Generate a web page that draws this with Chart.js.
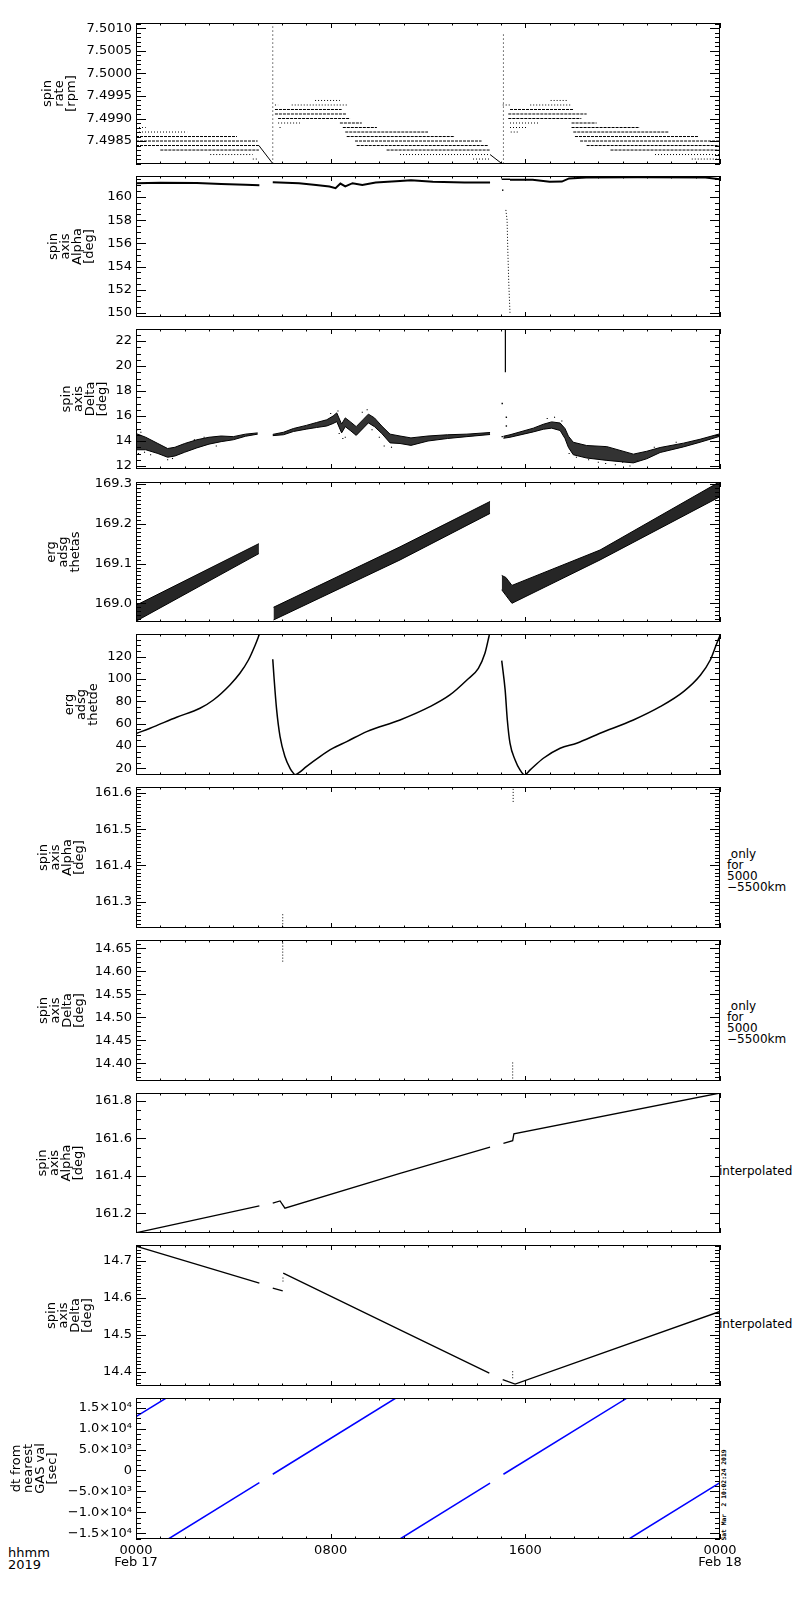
<!DOCTYPE html>
<html>
<head>
<meta charset="utf-8">
<script src="https://cdn.jsdelivr.net/npm/chart.js@4.4.1/dist/chart.umd.min.js"></script>
<style>
  html, body { margin: 0; padding: 0; background: #fff; }
  body { width: 800px; height: 1600px; position: relative; overflow: hidden;
         font-family: 'DejaVu Sans', sans-serif; color: #000; }
  canvas { position: absolute; left: 0; }
  .note { position: absolute; font-size: 12px; line-height: 11px; white-space: pre; }
  .foot { position: absolute; font-size: 13px; line-height: 12px; white-space: pre; }
  #stamp { position: absolute; left: 674px; top: 1491px; width: 100px; height: 8px; line-height: 8px;
           font: bold 6.3px 'DejaVu Sans Mono', monospace; text-align: center; white-space: pre;
           transform: rotate(-90deg); }
</style>
</head>
<body>
<div class="note" style="left:727px;top:849px"> only
for
5000
−5500km</div>
<div class="note" style="left:727px;top:1001px"> only
for
5000
−5500km</div>
<div class="note" style="left:719px;top:1166px">interpolated</div>
<div class="note" style="left:719px;top:1319px">interpolated</div>
<div class="foot" style="left:8px;top:1547px">hhmm
2019</div>
<div id="stamp">Sat Mar  2 10:02:24 2019</div>
<script>
// time axis: hours after 0000 UT Feb 17 2019
const hourTicks = [0, 8, 16, 24];
const hourLabels = [['0000', 'Feb 17'], '0800', '1600', ['0000', 'Feb 18']];

// panel 1 - spin rate [rpm], quantised levels (level, from h, to h, dense?)
const rateLevel = [7.4988, 7.4987, 7.4986, 7.4985, 7.4984, 7.4983, 7.4982, 7.4981,
  7.4994, 7.4993, 7.4993, 7.4992, 7.4991, 7.4990, 7.4989, 7.4989, 7.4988, 7.4988, 7.4987, 7.4986, 7.4985, 7.4984, 7.4983, 7.4982, 7.4981,
  7.4994, 7.4993, 7.4993, 7.4992, 7.4991, 7.4990, 7.4989, 7.4989, 7.4988, 7.4988, 7.4987, 7.4987, 7.4986, 7.4985, 7.4984, 7.4983, 7.4982, 7.4981];
const rateFrom = [0, 0, 0, 0, 0, 1.0, 3.05, 4.8,
  7.36, 5.71, 6.4, 5.71, 5.71, 5.84, 5.84, 8.38, 5.9, 8.5, 8.6, 8.66, 9.0, 9.07, 10.3, 10.85, 13.85,
  17.04, 15.07, 16.2, 15.37, 15.3, 15.3, 15.37, 17.9, 15.37, 17.9, 15.4, 17.97, 18.04, 18.25, 18.52, 19.5, 21.33, 22.84];
const rateTo = [0.4, 2.1, 4.15, 5.0, 5.05, 5.05, 4.8, 5.0,
  8.38, 5.84, 8.66, 8.45, 8.66, 8.8, 6.74, 9.28, 6.0, 9.9, 12.0, 13.1, 14.2, 14.47, 14.55, 14.55, 14.55,
  17.77, 15.37, 17.9, 17.97, 18.52, 18.3, 16.6, 18.93, 16.06, 20.7, 15.7, 21.88, 23.1, 24, 24, 24, 24, 24];
const rateDense = [0, 0, 1, 1, 1, 1, 0, 0,
  0, 0, 0, 1, 1, 1, 0, 1, 0, 1, 1, 1, 1, 1, 1, 0, 0,
  0, 0, 0, 1, 1, 1, 0, 1, 0, 1, 0, 1, 1, 1, 1, 1, 0, 0];
const rateRampH = [[5.05, 5.62], [14.55, 15.03]];
const rateRampV = [[7.4984, 7.4980], [7.4982, 7.4980]];
const rateSpikeH = [5.62, 15.1];
const rateSpikeTop = [7.5011, 7.5009];
const rateTicks = [7.4985, 7.4990, 7.4995, 7.5000, 7.5005, 7.5010];

// panel 2 - spin axis alpha [deg]
const alphaH = [[0, 1.0, 2.5, 3.5, 4.5, 5.07],
  [5.62, 6.7, 7.4, 7.95, 8.2, 8.4, 8.6, 8.9, 9.3, 9.85, 10.85, 11.3, 12.2, 13.5, 14.55],
  [15.37, 16.3, 17.0, 17.5, 17.8, 18.5, 20.6, 23.4, 24]];
const alphaV = [[161.18, 161.22, 161.2, 161.12, 161.05, 161.0],
  [161.27, 161.18, 161.03, 160.9, 160.75, 161.15, 160.9, 161.18, 161.03, 161.24, 161.38, 161.44, 161.3, 161.24, 161.24],
  [161.47, 161.47, 161.3, 161.32, 161.59, 161.67, 161.7, 161.67, 161.52]];
const alphaDropH = [15.2, 15.25, 15.28, 15.32, 15.37];
const alphaDropV = [158.88, 157.99, 155.4, 152.56, 149.97];
const alphaDashH = [15.03, 15.37];
const alphaDashV = [161.52, 161.52];
const alphaTicks = [150, 152, 154, 156, 158, 160];

// panel 3 - spin axis delta [deg], noisy band (low / high edge) plus stray points
const deltaH = [[0, 0.4, 0.9, 1.3, 1.6, 2.0, 2.5, 3.0, 3.5, 4.0, 4.5, 5.0],
  [5.62, 6.06, 6.47, 7.0, 7.42, 7.84, 8.1, 8.25, 8.45, 8.6, 8.8, 9.05, 9.35, 9.55, 9.8, 10.1, 10.44, 10.85, 11.3, 12.0, 12.8, 13.6, 14.55],
  [15.1, 15.37, 16.33, 16.74, 17.08, 17.43, 17.63, 17.77, 17.97, 18.52, 19.35, 20.44, 20.99, 21.54, 22.5, 23.18, 24]];
const deltaLo = [[13.3, 13.3, 13.0, 12.7, 12.8, 13.1, 13.45, 13.75, 13.95, 14.1, 14.38, 14.55],
  [14.43, 14.5, 14.76, 14.95, 15.08, 15.2, 15.4, 15.55, 14.65, 15.15, 14.85, 14.45, 15.05, 15.45, 15.15, 14.6, 13.85, 13.8, 13.65, 14.0, 14.2, 14.35, 14.52],
  [14.22, 14.3, 14.73, 14.94, 15.03, 14.84, 14.2, 13.49, 12.9, 12.64, 12.45, 12.25, 12.58, 13.08, 13.53, 13.9, 14.38]];
const deltaHi = [[14.6, 14.3, 13.8, 13.4, 13.5, 13.8, 14.1, 14.3, 14.4, 14.35, 14.55, 14.65],
  [14.53, 14.7, 15.0, 15.25, 15.48, 15.7, 16.0, 16.25, 15.35, 15.85, 15.55, 15.15, 15.75, 16.15, 15.85, 15.2, 14.55, 14.4, 14.25, 14.4, 14.5, 14.55, 14.68],
  [14.38, 14.5, 15.03, 15.34, 15.53, 15.44, 15.0, 14.39, 13.9, 13.64, 13.55, 12.95, 13.18, 13.48, 13.83, 14.14, 14.58]];
const deltaNoiseH = [0.05, 0.1, 0.2, 0.35, 0.6, 1.3, 1.5, 2.4, 2.8, 3.3,
  8.0, 8.3, 8.35, 8.5, 8.6, 9.3, 9.5, 9.7, 10.0, 10.2, 10.5,
  16.9, 17.2, 17.5, 17.8, 18.1, 18.6, 19.0, 19.3, 19.7, 20.0, 20.3, 20.6, 21.3, 22.2];
const deltaNoiseV = [14.9, 13.0, 14.7, 13.1, 12.9, 12.5, 12.6, 14.1, 14.3, 13.6,
  16.2, 16.4, 14.6, 14.2, 14.3, 16.3, 16.5, 14.9, 14.3, 13.6, 13.5,
  15.8, 15.9, 15.6, 13.0, 12.7, 12.5, 12.3, 12.2, 12.1, 12.3, 12.0, 12.4, 13.5, 13.9];
const deltaSpikeH = [15.18, 15.18];
const deltaSpikeV = [19.5, 23.0];
const deltaMarkH = [15.05, 15.05, 15.22, 15.22];
const deltaMarkV = [17.0, 14.35, 15.9, 15.2];
const deltaTicks = [12, 14, 16, 18, 20, 22];

// panel 4 - erg adsg thetas, band
const thetasH = [[0, 5.05], [5.65, 10.85, 14.55], [15.03, 15.2, 15.45, 19.07, 24]];
const thetasLo = [[168.955, 169.125], [168.958, 169.109, 169.226], [169.034, 169.02, 169.0, 169.109, 169.268]];
const thetasHi = [[168.995, 169.15], [168.99, 169.142, 169.256], [169.07, 169.065, 169.045, 169.134, 169.306]];
const thetasTicks = [169.0, 169.1, 169.2, 169.3];

// panel 5 - erg adsg thetde
const thetdeH = [[0.03, 0.58, 1.67, 2.63, 3.18, 3.86, 4.27, 4.62, 4.9, 5.07],
  [5.62, 5.67, 5.78, 5.92, 6.12, 6.33, 6.47, 6.53, 6.67, 7.0, 7.56, 8.1, 8.66, 9.48, 10.85, 12.08, 12.9, 13.6, 14.07, 14.34, 14.52],
  [15.03, 15.17, 15.26, 15.37, 15.58, 15.78, 15.96, 16.2, 16.74, 17.43, 18.11, 19.07, 20.44, 21.54, 22.5, 23.2, 23.6, 23.87, 24]];
const thetdeV = [[51.4, 55.9, 65.7, 73.8, 81.2, 94.7, 105.1, 117, 130.5, 140],
  [117.7, 102, 72.3, 48.4, 30.5, 20, 15.6, 14.2, 15.6, 21.5, 30.5, 38, 43.9, 52.9, 63.3, 75.2, 85.7, 99.1, 109.6, 123, 139.4],
  [116.4, 90.2, 63.3, 42.5, 27.5, 18.6, 14.1, 18.6, 29, 38, 42.5, 51.4, 63.3, 75.2, 88.7, 103.6, 117, 132, 139]];
const thetdeTicks = [20, 40, 60, 80, 100, 120];

// panels 6, 7 - only for 5000-5500 km (short runs of points)
const altAlphaH = [6.03, 15.5];
const altAlphaLo = [161.23, 161.575];
const altAlphaHi = [161.268, 161.612];
const altAlphaTicks = [161.3, 161.4, 161.5, 161.6];
const altDeltaH = [6.03, 15.48];
const altDeltaLo = [14.621, 14.367];
const altDeltaHi = [14.664, 14.406];
const altDeltaTicks = [14.40, 14.45, 14.50, 14.55, 14.60, 14.65];

// panels 8, 9 - interpolated
const intAlphaH = [[0.03, 5.07], [5.62, 5.92, 6.12, 10.85, 14.55], [15.1, 15.48, 15.53, 24]];
const intAlphaV = [[161.097, 161.239], [161.254, 161.266, 161.227, 161.413, 161.552], [161.573, 161.587, 161.623, 161.841]];
const intAlphaTicks = [161.2, 161.4, 161.6, 161.8];
const intDeltaH = [[0.03, 5.07], [5.62, 6.03], [6.05, 10.85, 14.52], [15.07, 15.58, 24]];
const intDeltaV = [[14.739, 14.64], [14.626, 14.619], [14.667, 14.513, 14.396], [14.378, 14.366, 14.563]];
const intDeltaDotH = [6.04, 15.48];
const intDeltaDotLo = [14.644, 14.382];
const intDeltaDotHi = [14.657, 14.405];
const intDeltaTicks = [14.4, 14.5, 14.6, 14.7];

// panel 10 - dt from nearest GAS value [sec]
const dtH = [[0, 1.24], [1.33, 5.07], [5.62, 10.68], [10.85, 14.55], [15.1, 20.17], [20.26, 24]];
const dtV = [[12850, 17300], [-16360, -2908], [-895, 17315], [-16360, -3040], [-895, 17260], [-16360, -2900]];
const dtTicks = [15000, 10000, 5000, 0, -5000, -10000, -15000];
const dtLabels = ['1.5×10⁴', '1.0×10⁴', '5.0×10³', '0', '−5.0×10³', '−1.0×10⁴', '−1.5×10⁴'];

// page layout of the ten plot boxes
const panelTop = [23, 176, 329, 482, 634, 787, 940, 1093, 1245, 1398];
const panelBottom = [164, 317, 469, 622, 775, 928, 1081, 1233, 1386, 1539];
const PAD = 14, LEFT = 136, RIGHT = 720;

Chart.defaults.color = '#000';
Chart.defaults.font.family = "'DejaVu Sans', sans-serif";
Chart.defaults.font.size = 13;

// IDL style frame with inward ticks on all four sides
const idlAxes = {
  id: 'idlAxes',
  afterDraw(chart, args, o) {
    const { ctx, chartArea: a } = chart;
    const x = chart.scales.x, y = chart.scales.y;
    ctx.save();
    ctx.strokeStyle = '#000';
    ctx.lineWidth = 1;
    ctx.beginPath();
    const k0 = Math.ceil(y.min / o.minor - 1e-6), k1 = Math.floor(y.max / o.minor + 1e-6);
    for (let k = k0; k <= k1; k++) {
      const v = k * o.minor;
      const py = Math.round(y.getPixelForValue(v)) + 0.5;
      const big = o.major.some(m => Math.abs(m - v) < o.minor / 4);
      const len = big ? 10 : 5;
      ctx.moveTo(a.left, py); ctx.lineTo(a.left + len, py);
      ctx.moveTo(a.right, py); ctx.lineTo(a.right - len, py);
    }
    for (let hr = 0; hr <= 24; hr++) {
      const px = Math.round(x.getPixelForValue(hr)) + 0.5;
      const len = hr % 8 === 0 ? 5 : 2.5;
      ctx.moveTo(px, a.top); ctx.lineTo(px, a.top + len);
      ctx.moveTo(px, a.bottom); ctx.lineTo(px, a.bottom - len);
    }
    ctx.stroke();
    ctx.strokeRect(a.left + 0.5, a.top + 0.5, a.right - a.left - 1, a.bottom - a.top - 1);
    ctx.restore();
  }
};

function seg(hs, vs, extra) {
  return Object.assign({
    data: hs.map((h, k) => ({ x: h, y: vs[k] })),
    showLine: true, pointRadius: 0, borderColor: '#000', backgroundColor: '#000',
    borderWidth: 1, fill: false
  }, extra);
}
function band(hs, lo, hi, color) {
  return [seg(hs, lo, { borderWidth: 1 }),
          seg(hs, hi, { borderWidth: 1, fill: '-1', backgroundColor: color })];
}
function dots(hs, vs, r) {
  return { data: hs.map((h, k) => ({ x: h, y: vs[k] })), pointRadius: r || 1, pointStyle: 'rect',
           borderWidth: 0, backgroundColor: '#000' };
}

function panel(i, p) {
  const last = i === panelTop.length - 1;
  const cv = document.createElement('canvas');
  cv.width = 800;
  cv.height = panelBottom[i] - panelTop[i] + PAD + (last ? 44 : PAD);
  cv.style.top = (panelTop[i] - PAD) + 'px';
  document.body.appendChild(cv);
  new Chart(cv, {
    type: 'scatter',
    data: { datasets: p.datasets },
    options: {
      responsive: false,
      animation: false,
      events: [],
      layout: { padding: { top: PAD, bottom: last ? 0 : PAD, left: 0, right: 800 - RIGHT } },
      plugins: {
        legend: { display: false },
        tooltip: { enabled: false },
        idlAxes: { major: p.ticks, minor: p.minor }
      },
      scales: {
        x: {
          type: 'linear', min: 0, max: 24, display: last,
          grid: { display: false, drawTicks: false }, border: { display: false },
          ticks: { autoSkip: false, maxRotation: 0, padding: 5, display: last,
                   font: { size: 13, lineHeight: 0.95 },
                   callback: (v, k) => hourLabels[k] },
          afterBuildTicks: s => { s.ticks = hourTicks.map(v => ({ value: v })); },
          afterFit: s => { s.height = last ? 44 : 0; }
        },
        y: {
          min: p.min, max: p.max,
          grid: { display: false, drawTicks: false }, border: { display: false },
          ticks: { autoSkip: false, padding: 4,
                   callback: (v, k) => p.labels ? p.labels[k] : p.ticks[k].toFixed(p.dec) },
          afterBuildTicks: s => { s.ticks = p.ticks.map(v => ({ value: v })); },
          afterFit: s => { s.width = LEFT; },
          title: { display: true, text: p.title, padding: { top: p.titleX - 6, bottom: 0 },
                   font: { size: 13, lineHeight: 12 / 13 } }
        }
      }
    },
    plugins: [idlAxes]
  });
}

// panel 1
const rateSets = rateLevel.map((v, k) =>
  seg([rateFrom[k], rateTo[k]], [v, v], { borderDash: rateDense[k] ? [3, 1] : [1, 2] }));
rateRampH.forEach((hs, k) => rateSets.push(seg(hs, rateRampV[k])));
rateSpikeH.forEach((h, k) => rateSets.push(seg([h, h], [7.4980, rateSpikeTop[k]], { borderDash: [1, 3] })));
panel(0, { min: 7.49799, max: 7.50112, ticks: rateTicks, minor: 0.0001, dec: 4,
           title: ['spin', 'rate', '[rpm]'], titleX: 48, datasets: rateSets });

// panel 2
const alphaSets = alphaH.map((hs, k) => seg(hs, alphaV[k], { borderWidth: 2 }));
alphaSets.push(seg(alphaDropH, alphaDropV, { borderDash: [1, 2] }));
alphaSets.push(seg(alphaDashH, alphaDashV, { borderWidth: 1.5 }));
alphaSets.push(dots([15.07], [160.58]));
panel(1, { min: 149.66, max: 161.8, ticks: alphaTicks, minor: 0.5, dec: 0,
           title: ['spin', 'axis', 'Alpha', '[deg]'], titleX: 54, datasets: alphaSets });

// panel 3
const deltaSets = [];
deltaH.forEach((hs, k) => deltaSets.push(...band(hs, deltaLo[k], deltaHi[k], 'rgba(0,0,0,0.8)')));
deltaSets.push(dots(deltaNoiseH, deltaNoiseV, 0.8));
deltaSets.push(seg(deltaSpikeH, deltaSpikeV, { borderWidth: 1.2 }));
deltaSets.push(dots(deltaMarkH, deltaMarkV));
panel(2, { min: 11.76, max: 22.96, ticks: deltaTicks, minor: 0.5, dec: 0,
           title: ['spin', 'axis', 'Delta', '[deg]'], titleX: 67, datasets: deltaSets });

// panel 4
const thetasSets = [];
thetasH.forEach((hs, k) => thetasSets.push(...band(hs, thetasLo[k], thetasHi[k], 'rgba(0,0,0,0.85)')));
panel(3, { min: 168.953, max: 169.305, ticks: thetasTicks, minor: 0.01, dec: 1,
           title: ['erg', 'adsg', 'thetas'], titleX: 52, datasets: thetasSets });

// panel 5
const thetdeSets = thetdeH.map((hs, k) =>
  seg(hs, thetdeV[k], { borderWidth: 1.5, cubicInterpolationMode: 'monotone' }));
panel(4, { min: 14, max: 140.3, ticks: thetdeTicks, minor: 5, dec: 0,
           title: ['erg', 'adsg', 'thetde'], titleX: 70, datasets: thetdeSets });

// panel 6
const altAlphaSets = altAlphaH.map((h, k) =>
  seg([h, h], [altAlphaLo[k], altAlphaHi[k]], { borderDash: [1, 2] }));
panel(5, { min: 161.228, max: 161.616, ticks: altAlphaTicks, minor: 0.01, dec: 1,
           title: ['spin', 'axis', 'Alpha', '[deg]'], titleX: 44, datasets: altAlphaSets });

// panel 7
const altDeltaSets = altDeltaH.map((h, k) =>
  seg([h, h], [altDeltaLo[k], altDeltaHi[k]], { borderDash: [1, 2] }));
panel(6, { min: 14.3615, max: 14.668, ticks: altDeltaTicks, minor: 0.01, dec: 2,
           title: ['spin', 'axis', 'Delta', '[deg]'], titleX: 44, datasets: altDeltaSets });

// panel 8
const intAlphaSets = intAlphaH.map((hs, k) => seg(hs, intAlphaV[k], { borderWidth: 1.3 }));
panel(7, { min: 161.095, max: 161.841, ticks: intAlphaTicks, minor: 0.05, dec: 1,
           title: ['spin', 'axis', 'Alpha', '[deg]'], titleX: 43, datasets: intAlphaSets });

// panel 9
const intDeltaSets = intDeltaH.map((hs, k) => seg(hs, intDeltaV[k], { borderWidth: 1.3 }));
intDeltaDotH.forEach((h, k) =>
  intDeltaSets.push(seg([h, h], [intDeltaDotLo[k], intDeltaDotHi[k]], { borderDash: [1, 2] })));
panel(8, { min: 14.361, max: 14.743, ticks: intDeltaTicks, minor: 0.01, dec: 1,
           title: ['spin', 'axis', 'Delta', '[deg]'], titleX: 52, datasets: intDeltaSets });

// panel 10
const dtSets = dtH.map((hs, k) => seg(hs, dtV[k], { borderColor: '#0000ff', borderWidth: 1.5 }));
panel(9, { min: -16360, max: 17315, ticks: dtTicks, labels: dtLabels, minor: 1250,
           title: ['dt from', 'nearest', 'GAS val', '[sec]'], titleX: 17, datasets: dtSets });
</script>
</body>
</html>
